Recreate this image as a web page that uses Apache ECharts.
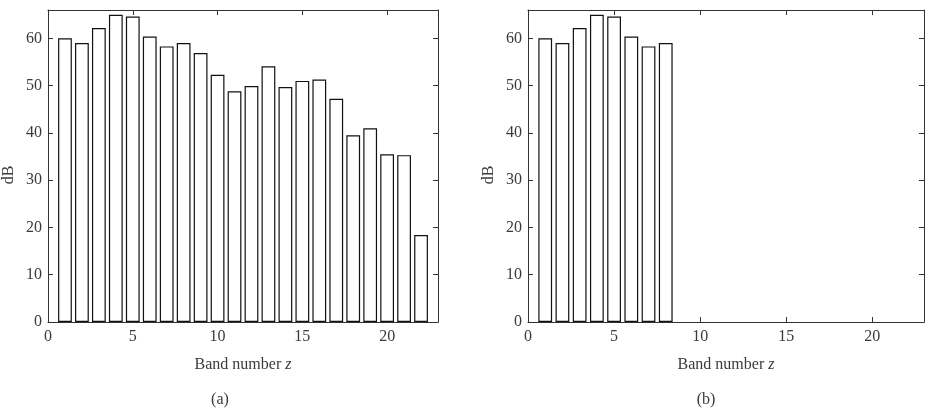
<!DOCTYPE html>
<html>
<head>
<meta charset="utf-8">
<script src="https://cdn.jsdelivr.net/npm/echarts@6/dist/echarts.min.js"></script>
<style>
  html, body { margin: 0; padding: 0; background: #fff; }
  #main { width: 936px; height: 408px; }
</style>
</head>
<body>
<div id="main"></div>
<script>
// band numbers and levels (dB)
const bandsA = [1, 2, 3, 4, 5, 6, 7, 8, 9, 10, 11, 12, 13, 14, 15, 16, 17, 18, 19, 20, 21, 22]
const levelsA = [60.0, 59.0, 62.2, 65.0, 64.6, 60.4, 58.3, 59.0, 56.9, 52.3, 48.8, 49.9,
                 54.1, 49.7, 51.0, 51.3, 47.2, 39.5, 41.0, 35.5, 35.3, 18.4]
const bandsB = [1, 2, 3, 4, 5, 6, 7, 8]
const levelsB = [60.0, 59.0, 62.2, 65.0, 64.6, 60.4, 58.3, 59.0]
const xTicks = [0, 5, 10, 15, 20]
const yTicks = [0, 10, 20, 30, 40, 50, 60]
const panelLabels = ['(a)', '(b)']

const chart = echarts.init(document.getElementById('main'), null, { renderer: 'canvas' })

const font = 'Liberation Serif'
const fs = 16
const txt = '#3a3a3a'
const lineCol = '#333'
const grids = [
  { left: 42, top: 10, width: 396, height: 312 },
  { left: 528, top: 10, width: 396, height: 312 }
]
const xMax = 23, yMax = 66
const barPx = 0.8 * grids[0].width / xMax

function xAxes(i) {
  const base = {
    type: 'value', gridIndex: i, min: 0, max: xMax, interval: 5,
    splitLine: { show: false },
    axisLine: { show: true, onZero: false, lineStyle: { color: lineCol, width: 1 } },
    axisTick: { show: true, inside: true, length: 5, lineStyle: { color: lineCol } }
  }
  return [
    Object.assign({}, base, {
      position: 'bottom',
      axisLabel: { color: txt, fontFamily: font, fontSize: fs, margin: 7,
        formatter: v => xTicks.includes(v) ? String(v) : '' },
      name: '{a|Band number }{b|z}',
      nameLocation: 'middle', nameGap: 35,
      nameTextStyle: { rich: {
        a: { fontFamily: font, fontSize: fs, color: txt },
        b: { fontFamily: font, fontSize: fs, color: txt, fontStyle: 'italic' }
      } }
    }),
    Object.assign({}, base, { position: 'top', axisLabel: { show: false } })
  ]
}
function yAxes(i) {
  const base = {
    type: 'value', gridIndex: i, min: 0, max: yMax, interval: 10,
    splitLine: { show: false },
    axisLine: { show: true, onZero: false, lineStyle: { color: lineCol, width: 1 } },
    axisTick: { show: true, inside: true, length: 5, lineStyle: { color: lineCol } }
  }
  return [
    Object.assign({}, base, {
      position: 'left',
      axisLabel: { color: txt, fontFamily: font, fontSize: fs, margin: 6,
        formatter: v => yTicks.includes(v) ? String(v) : '' },
      name: 'dB', nameLocation: 'middle', nameGap: 31, nameRotate: 90,
      nameTextStyle: { fontFamily: font, fontSize: fs, color: txt, padding: [0, 18, 0, 0] }
    }),
    Object.assign({}, base, { position: 'right', axisLabel: { show: false } })
  ]
}

const barStyle = { color: '#fff', borderColor: '#111', borderWidth: 1.2 }

const option = {
  animation: false,
  backgroundColor: '#fff',
  grid: grids,
  xAxis: [...xAxes(0), ...xAxes(1)],
  yAxis: [...yAxes(0), ...yAxes(1)],
  title: [
    { text: panelLabels[0], left: 215, top: 387, textAlign: 'center',
      textStyle: { fontFamily: font, fontSize: fs, fontWeight: 'normal', color: txt } },
    { text: panelLabels[1], left: 701, top: 387, textAlign: 'center',
      textStyle: { fontFamily: font, fontSize: fs, fontWeight: 'normal', color: txt } }
  ],
  series: [
    { type: 'bar', xAxisIndex: 0, yAxisIndex: 0, barWidth: barPx, itemStyle: barStyle,
      data: bandsA.map((b, i) => [b, levelsA[i]]) },
    { type: 'bar', xAxisIndex: 2, yAxisIndex: 2, barWidth: barPx, itemStyle: barStyle,
      data: bandsB.map((b, i) => [b, levelsB[i]]) }
  ]
}
chart.setOption(option)
</script>
</body>
</html>
